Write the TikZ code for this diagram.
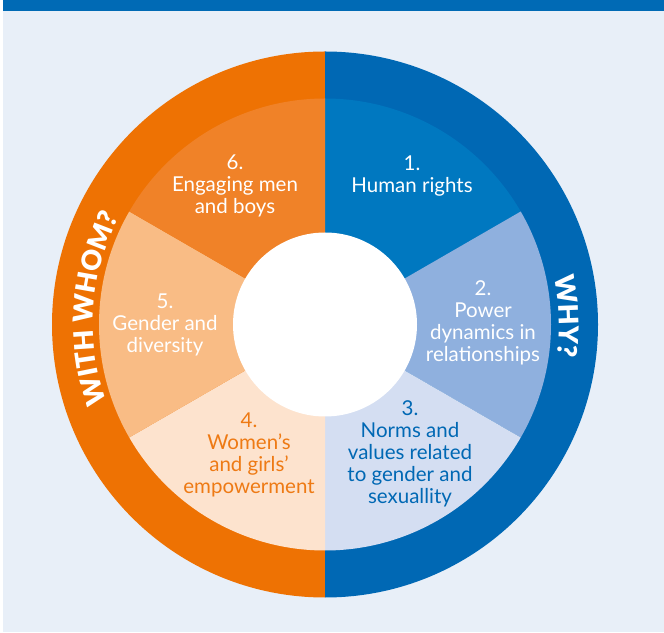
\documentclass[tikz,border=0pt]{standalone}
\usepackage{fontspec}
\setmainfont{Lato}
\newfontfamily\ringfont{Lato Black}
\usetikzlibrary{decorations.text}
\definecolor{barblue}{RGB}{0,106,181}
\definecolor{bgblue}{RGB}{232,239,248}
\definecolor{ringorange}{RGB}{238,114,3}
\definecolor{ringblue}{RGB}{0,104,180}
\definecolor{segone}{RGB}{0,120,192}
\definecolor{segtwo}{RGB}{143,176,222}
\definecolor{segthree}{RGB}{212,222,242}
\definecolor{segfour}{RGB}{253,227,206}
\definecolor{segfive}{RGB}{249,188,133}
\definecolor{segsix}{RGB}{240,130,40}
\definecolor{textorange}{RGB}{238,122,20}
\begin{document}
\begin{tikzpicture}[x=1pt,y=1pt,
    seglabel/.style={align=center,font=\fontsize{20.5}{22}\selectfont,text=white},
    ringlabel/.style={decorate,decoration={text along path,text color=white,
        text align=center,text={|\fontsize{27}{27}\ringfont|#1}}}]
    \useasboundingbox (0,0) rectangle (664,632);
    \fill[white] (0,0) rectangle (664,632);
    \fill[bgblue] (3,0) rectangle (664,632);
    \fill[barblue] (3,621.3) rectangle (664,632);

    \coordinate (c) at (325,307.5);
    \fill[ringorange] (c) -- ++(90:273) arc[start angle=90,end angle=270,radius=273] -- cycle;
    \fill[ringblue] (c) -- ++(-90:273) arc[start angle=-90,end angle=90,radius=273] -- cycle;

    \fill[segone] (c) -- ++(30:226) arc[start angle=30,end angle=90,radius=226] -- cycle;
    \fill[segtwo] (c) -- ++(-30:226) arc[start angle=-30,end angle=30,radius=226] -- cycle;
    \fill[segthree] (c) -- ++(-90:226) arc[start angle=-90,end angle=-30,radius=226] -- cycle;
    \fill[segfour] (c) -- ++(-150:226) arc[start angle=-150,end angle=-90,radius=226] -- cycle;
    \fill[segfive] (c) -- ++(150:226) arc[start angle=150,end angle=210,radius=226] -- cycle;
    \fill[segsix] (c) -- ++(90:226) arc[start angle=90,end angle=150,radius=226] -- cycle;
    \fill[white] (c) circle[radius=92];

    \node[seglabel] (one) at (412,456) {1.\\Human rights};
    \node[seglabel] (two) at (483,309) {2.\\Power\\dynamics in\\relationships};
    \node[seglabel,text=ringblue] (three) at (410,178) {3.\\Norms and\\values related\\to gender and\\sexuallity};
    \node[seglabel,text=textorange] (four) at (249,177) {4.\\Women’s\\and girls’\\empowerment};
    \node[seglabel] (five) at (165,307) {5.\\Gender and\\diversity};
    \node[seglabel] (six) at (235,446) {6.\\Engaging men\\and boys};

    \path[ringlabel={WITH WHOM?}] ([shift={(206:232)}]c) arc[start angle=206,end angle=146,radius=232];
    \path[ringlabel={WHY?}] ([shift={(32:234)}]c) arc[start angle=32,end angle=-28,radius=234];
\end{tikzpicture}
\end{document}
